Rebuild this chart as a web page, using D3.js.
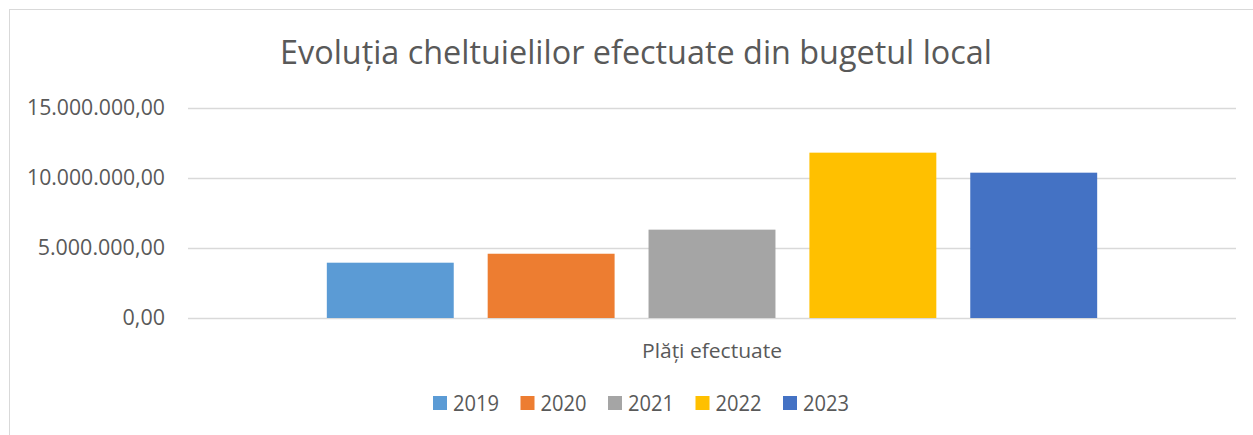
<!DOCTYPE html>
<html>
<head>
<meta charset="utf-8">
<script src="https://cdn.jsdelivr.net/npm/d3@7"></script>
<style>
  html, body { margin: 0; padding: 0; background: #fff; }
  svg { display: block; font-family: "Open Sans", "Noto Sans", sans-serif; }
</style>
</head>
<body>
<svg id="chart"></svg>
<script>
// Data
const categories = ['Plăți efectuate'];
const years = ['2019', '2020', '2021', '2022', '2023'];
const values = [3950000, 4590000, 6310000, 11810000, 10380000];
const colors = ['#5b9bd5', '#ed7d31', '#a5a5a5', '#ffc000', '#4472c4'];
const yTicks = [0, 5000000, 10000000, 15000000];
const title = 'Evoluția cheltuielilor efectuate din bugetul local';

const width = 1253, height = 435;
const svg = d3.select('#chart').attr('width', width).attr('height', height);

// Plot area
const plotLeft = 188, plotRight = 1236, plotTop = 108, plotBottom = 318;
const textColor = '#595959';

// chart border (runs off the right/bottom of the picture)
svg.append('rect')
  .attr('x', 9.5).attr('y', 9.5)
  .attr('width', width + 20).attr('height', height + 20)
  .attr('fill', 'none')
  .attr('stroke', '#d9d9d9')
  .attr('stroke-width', 1);

// stretch/squeeze a text node to the width measured on the reference
function fitText(sel, w) {
  sel.attr('textLength', w).attr('lengthAdjust', 'spacingAndGlyphs');
  return sel;
}

// Title
const titleEl = svg.append('text')
  .attr('x', (280 + 992) / 2)
  .attr('y', 64)
  .attr('text-anchor', 'middle')
  .attr('fill', textColor)
  .attr('font-size', 32)
  .attr('font-weight', 400)
  .text(title);
fitText(titleEl, 712);

const y = d3.scaleLinear().domain([0, 15000000]).range([plotBottom, plotTop]);

const x0 = d3.scaleBand().domain(categories).range([plotLeft, plotRight]);
const x1 = d3.scaleBand().domain(years)
  .range([x0(categories[0]), x0(categories[0]) + x0.bandwidth()])
  .paddingInner(0.211)
  .paddingOuter(0.863);

const roLocale = d3.formatLocale({ decimal: ',', thousands: '.', grouping: [3], currency: ['', ' lei'] });
const fmt = roLocale.format(',.2f');

// gridlines
svg.append('g')
  .selectAll('line')
  .data(yTicks)
  .join('line')
  .attr('x1', plotLeft).attr('x2', plotRight)
  .attr('y1', d => Math.round(y(d)) + 0.5)
  .attr('y2', d => Math.round(y(d)) + 0.5)
  .attr('stroke', '#d9d9d9')
  .attr('stroke-width', 1.5);

// y axis labels
const yAxis = d3.axisLeft(y).tickValues(yTicks).tickFormat(fmt).tickSize(0).tickPadding(23);
const yG = svg.append('g').attr('transform', `translate(${plotLeft},0)`).call(yAxis);
yG.select('.domain').remove();
yG.selectAll('text')
  .attr('fill', textColor)
  .attr('font-size', 21)
  .attr('font-family', '"Open Sans", sans-serif')
  .each(function() {
    const t = d3.select(this);
    const n = t.text().length;
    fitText(t, 138 * n / 13);
  });

// bars
svg.append('g')
  .selectAll('rect')
  .data(years.map((yr, i) => ({ yr, v: values[i], c: colors[i] })))
  .join('rect')
  .attr('x', d => x1(d.yr))
  .attr('y', d => y(d.v))
  .attr('width', x1.bandwidth())
  .attr('height', d => y(0) - y(d.v))
  .attr('fill', d => d.c);

// category label
const catEl = svg.append('text')
  .attr('x', x0(categories[0]) + x0.bandwidth() / 2)
  .attr('y', 358)
  .attr('text-anchor', 'middle')
  .attr('fill', textColor)
  .attr('font-size', 20)
  .text(categories[0]);
fitText(catEl, 140);

// legend
const legendX = d3.scalePoint().domain(years).range([433, 783]);
const leg = svg.append('g')
  .selectAll('g')
  .data(years.map((yr, i) => ({ yr, c: colors[i] })))
  .join('g')
  .attr('transform', d => `translate(${legendX(d.yr)},396)`);
leg.append('rect')
  .attr('width', 14).attr('height', 14)
  .attr('fill', d => d.c);
leg.append('text')
  .attr('x', 20)
  .attr('y', 14.5)
  .attr('fill', textColor)
  .attr('font-size', 21)
  .text(d => d.yr)
  .each(function() { fitText(d3.select(this), 46); });
</script>
</body>
</html>
